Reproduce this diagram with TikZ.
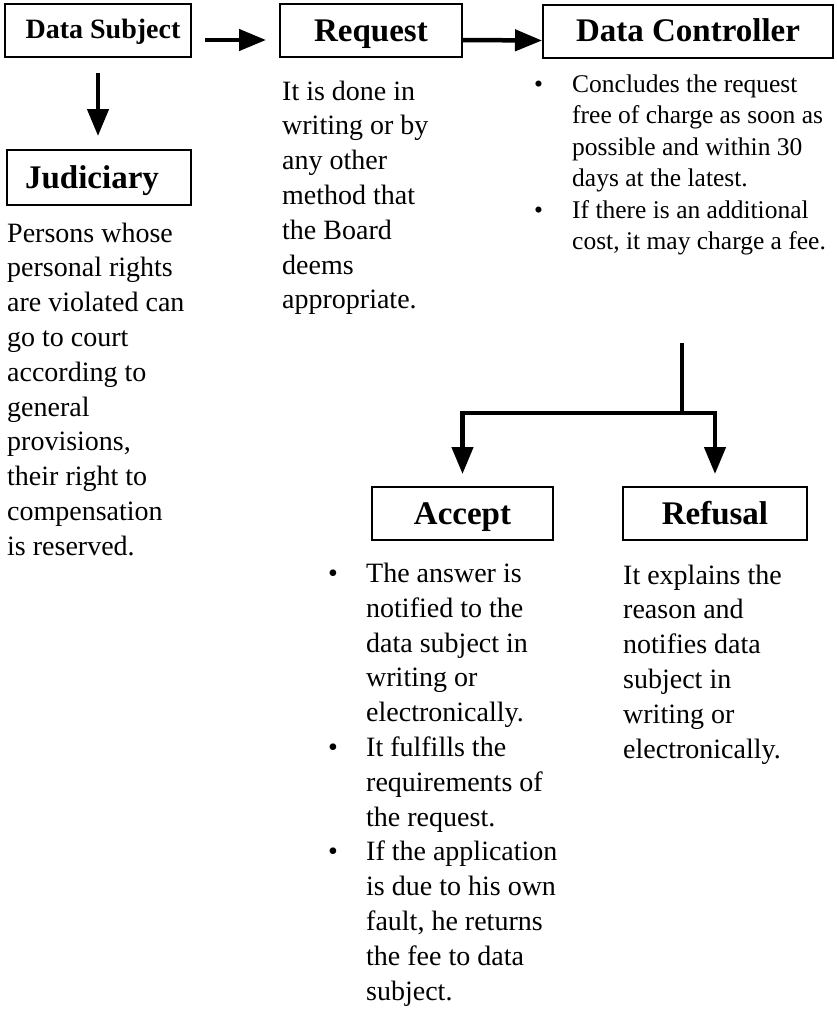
\documentclass[tikz,border=0pt]{standalone}
\usepackage{fontspec}
\setmainfont{Liberation Serif}
\usetikzlibrary{arrows.meta}

\newcommand{\bul}{\makebox[38pt][l]{\textbullet}}
\newcommand{\ind}{\hspace*{38pt}}

\tikzset{
    box/.style={draw, line width=2pt, inner sep=0pt, minimum height=53pt,
        text height=24pt, text depth=3pt,
        font=\bfseries\fontsize{33}{38}\selectfont},
    body/.style={anchor=base west, align=left, inner sep=0pt,
        font=\fontsize{28}{34.8}\selectfont},
    small/.style={body, font=\fontsize{25.5}{31.5}\selectfont},
    arr/.style={line width=4.5pt, -{Triangle[length=27pt,width=21pt]}},
}

\begin{document}
\begin{tikzpicture}[x=1pt, y=-1pt]
    \useasboundingbox (0,0) rectangle (837,1009);

    \node[box, minimum width=186pt, text height=20pt, text depth=5pt,
        font=\bfseries\fontsize{28}{32}\selectfont] (ds) at (98,30.5) {\hspace*{10pt}Data Subject};
    \node[box, minimum width=182pt] (req) at (371,30.5) {Request};
    \node[box, minimum width=290pt] (dc) at (688,31) {Data Controller};
    \node[box, minimum width=184pt, minimum height=55pt] (jud) at (99,177.5) {Judiciary\hspace*{14pt}};
    \node[box, minimum width=181pt] (acc) at (462.5,513.5) {Accept};
    \node[box, minimum width=184pt] (ref) at (715,513.5) {Refusal};

    % texts under the boxes (placed by the baseline of their last line)
    \node[body] (judtxt) at (7,555.2) {Persons whose\\personal rights\\are violated can\\go to court\\according to\\general\\provisions,\\their right to\\compensation\\is reserved.};
    \node[body] (reqtxt) at (282,308.8) {It is done in\\writing or by\\any other\\method that\\the Board\\deems\\appropriate.};
    \node[small] (dctxt) at (534,249.5) {\bul Concludes the request\\\ind free of charge as soon as\\\ind possible and within 30\\\ind days at the latest.\\\bul If there is an additional\\\ind cost, it may charge a fee.};
    \node[body] (acctxt) at (328,1000) {\bul The answer is\\\ind notified to the\\\ind data subject in\\\ind writing or\\\ind electronically.\\\bul It fulfills the\\\ind requirements of\\\ind the request.\\\bul If the application\\\ind is due to his own\\\ind fault, he returns\\\ind the fee to data\\\ind subject.};
    \node[body] (reftxt) at (623,758) {It explains the\\reason and\\notifies data\\subject in\\writing or\\electronically.};

    % arrows
    \draw[arr, shorten <=13pt, shorten >=13pt] ([yshift=-9.5pt]ds.east) -- ([yshift=-9.5pt]req.west);
    \draw[arr] ([yshift=-9.5pt]req.east) -- ([yshift=-9.5pt]dc.west);
    \draw[arr, shorten <=15pt, shorten >=13pt] (ds.south) -- (ds.south |- jud.north);

    \coordinate (fork) at (682,343);
    \coordinate (split) at (682,413);
    \draw[line width=4.5pt] (fork) -- (split);
    \draw[arr, shorten >=12pt] (split) -| (acc.north);
    \draw[arr, shorten >=12pt] (split) -| (ref.north);
\end{tikzpicture}
\end{document}
